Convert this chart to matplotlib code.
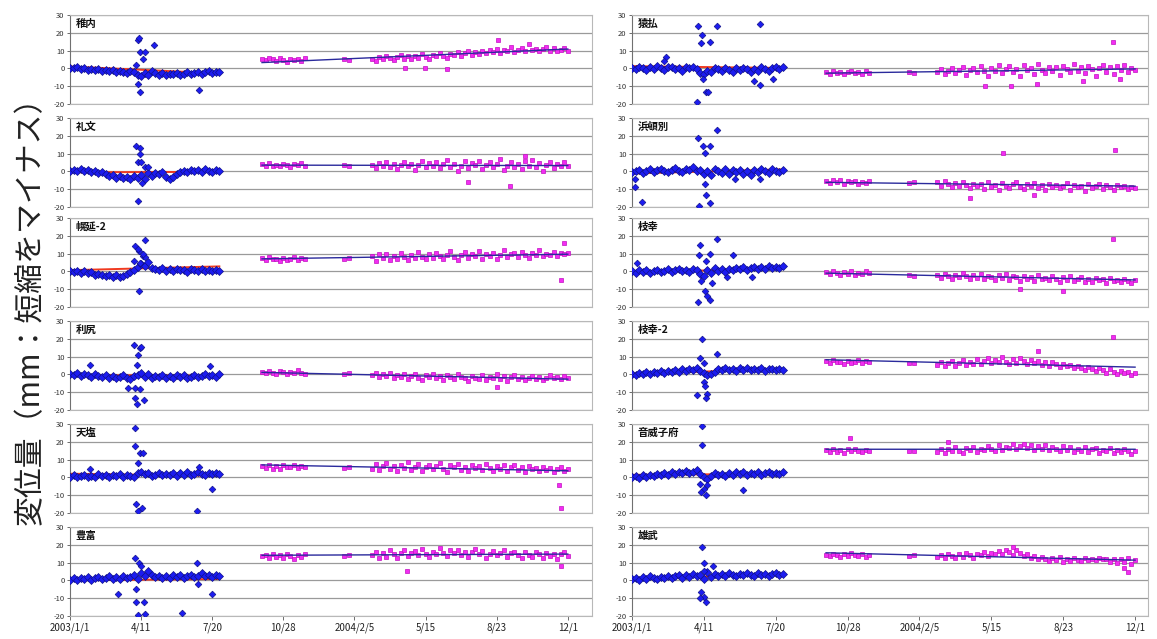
import numpy as np
import matplotlib
matplotlib.use("Agg")
import matplotlib.pyplot as plt

plt.rcParams['font.family'] = ['Noto Sans CJK JP', 'DejaVu Sans']

# days counted from 2003/1/1
BLUE_DAYS = [0, 5, 10, 15, 20, 25, 30, 35, 40, 45, 50, 55, 60, 65, 70, 75, 80, 85, 90, 95,
             100, 105, 110, 115, 120, 125, 130, 135, 140, 145, 150, 155, 160, 165, 170, 175,
             180, 185, 190, 195, 200, 205, 210]
PINK_DAYS = [270, 275, 280, 285, 290, 295, 300, 305, 310, 315, 320, 325, 330,
             385, 393,
             425, 430, 435, 440, 445, 450, 455, 460, 465, 470, 475, 480, 485, 490, 495, 500,
             505, 510, 515, 520, 525, 530, 535, 540, 545, 550, 555, 560, 565, 570, 575, 580,
             585, 590, 595, 600, 605, 610, 615, 620, 625, 630, 635, 640, 645, 650, 655, 660,
             665, 670, 675, 680, 685, 690, 695, 700]
TICK_DAYS = [0, 100, 200, 300, 400, 500, 600, 700]
TICK_LABELS = ["2003/1/1", "4/11", "7/20", "10/28", "2004/2/5", "5/15", "8/23", "12/1"]
Y_TICKS = [-20, -10, 0, 10, 20, 30]

# ---- 稚内
wakkanai_blue = [0.5, 0.0, 0.8, -0.3, 0.2, -0.8, -0.2, -1.0, -0.5, -1.3,
                 -0.8, -1.5, -1.0, -2.0, -1.2, -1.8, -2.5, -1.5, -2.2, -3.5,
                 -4.0, -2.5, -3.8, -1.5, -2.8, -3.5, -2.6, -3.8, -3.0, -3.4,
                 -2.6, -3.8, -3.0, -2.2, -3.4, -2.5, -1.8, -3.0, -2.0, -1.5,
                 -2.4, -1.8, -2.2]
wakkanai_blue_out = ([95, 97, 98, 105, 102, 118, 93, 99, 96, 181],
                     [16, 17, 9, 9, 5, 13, 2, -13, -9, -12])
wakkanai_pink = [5.2, 4.5, 6.0, 5.0, 4.2, 5.8, 4.8, 3.5, 5.5, 4.6, 5.0, 4.0, 5.6,
                 5.2, 4.6,
                 5.5, 4.2, 6.5, 5.0, 7.0, 5.8, 4.5, 6.2, 7.5, 5.5,
                 6.8, 5.0, 7.2, 6.0, 8.0, 6.5, 5.5, 7.8, 6.8, 8.5,
                 7.0, 6.0, 8.2, 7.5, 9.0, 7.2, 8.5, 10.0, 7.8, 9.2,
                 8.0, 9.8, 8.5, 10.5, 9.0, 11.0, 8.8, 10.2, 9.5, 12.0,
                 9.0, 10.5, 11.5, 9.8, 13.5, 10.2, 11.0, 9.5, 10.8, 12.2,
                 10.0, 11.5, 9.8, 10.6, 11.2, 10.0]
wakkanai_pink_out = ([471, 499, 530, 602], [0.5, 0.0, -0.5, 16])

# ---- 礼文
rebun_blue = [0.5, 1.0, 0.2, 1.2, 0.0, 0.6, -0.5, 0.3, -1.0, -0.2,
              -1.5, -2.8, -2.0, -3.5, -2.5, -3.8, -3.0, -4.0, -2.8, -3.5,
              -2.0, -4.5, -1.0, -2.5, -0.8, -1.5, -0.5, -3.0, -4.0, -3.2,
              -1.5, -0.5, 0.5, -0.2, 1.0, 0.2, 0.8, -0.5, 1.2, 0.4,
              -0.3, 0.8, 0.0]
rebun_blue_out = ([93, 99, 98, 96, 100, 105, 110, 96, 101],
                  [14, 13, 9.5, 5, 5, 2.5, 2.5, -16.5, -6.5])
rebun_pink = [4.0, 3.2, 4.5, 3.0, 3.8, 2.8, 4.2, 3.5, 2.5, 4.0, 3.4, 4.6, 3.0,
              3.8, 3.0,
              3.5, 2.0, 4.5, 3.0, 5.0, 2.5, 4.0, 1.5, 3.8, 5.5,
              2.8, 4.2, 1.0, 3.6, 6.0, 2.2, 4.8, 3.0, 5.2, 1.8,
              3.9, 6.5, 2.5, 4.4, 0.5, 3.2, 5.8, 2.0, 4.6, 3.5,
              6.0, 1.5, 3.8, 5.0, 2.4, 4.2, 6.8, 0.8, 3.3, 5.4,
              2.6, 4.0, 1.2, 5.6, 3.0, 6.2, 2.2, 4.5, 0.5, 3.6,
              5.0, 2.0, 4.3, 3.0, 5.5, 3.2]
rebun_pink_out = ([560, 619, 640], [-6.0, -8.0, 8.5])

# ---- 幌延-2
horonobe2_blue = [0.2, -0.5, 0.5, -0.8, 0.0, -1.0, -0.5, -1.8, -1.2, -2.0,
                  -2.5, -1.8, -3.0, -2.2, -3.2, -2.5, -1.5, -0.5, 1.0, 2.5,
                  4.0, 3.0, 5.5, 2.0, 1.5, 0.8, 1.8, 0.5, 1.2, 0.2,
                  1.5, 0.6, 1.0, -0.2, 1.4, 0.8, 0.2, 1.6, 0.5, 1.0,
                  0.3, 0.9, 0.5]
horonobe2_blue_out = ([105, 92, 97, 102, 106, 90, 99, 103, 97, 95],
                      [17.5, 14, 11.5, 8.5, 8, 6, 5, 10, -11, 12.5])
horonobe2_pink = [7.5, 6.5, 8.0, 6.8, 7.2, 6.0, 7.8, 6.5, 7.0, 8.2, 6.4, 7.4, 6.8,
                  7.2, 7.8,
                  8.5, 6.0, 9.5, 7.5, 10.0, 6.5, 8.8, 7.0, 10.5, 8.0,
                  6.2, 9.0, 7.8, 11.0, 8.2, 6.8, 9.8, 7.5, 10.2, 8.6,
                  7.0, 9.4, 11.5, 8.0, 6.5, 9.0, 10.8, 7.6, 9.6, 8.4,
                  11.2, 7.2, 9.8, 8.8, 10.5, 7.0, 9.2, 12.0, 8.0, 9.6,
                  10.4, 8.2, 11.0, 9.0, 7.8, 10.6, 9.4, 11.8, 8.6, 10.0,
                  9.2, 11.0, 8.8, 10.4, 9.6, 10.2]
horonobe2_pink_out = ([690, 695], [-5, 16])

# ---- 利尻
rishiri_blue = [0.5, -0.5, 1.0, -1.0, 0.2, -0.3, -1.2, 0.0, -0.8, -1.5,
                -0.5, -1.8, -1.0, -2.2, -1.2, -0.6, -1.8, -2.5, -1.0, -0.2,
                0.8, -1.5, 0.5, -2.0, -0.8, -1.6, -0.5, -1.8, -1.0, -2.2,
                -0.6, -1.4, -0.2, -2.0, -1.2, -0.4, -1.6, -0.8, 0.2, -1.0,
                -0.4, -1.2, 0.0]
rishiri_blue_out = ([90, 98, 100, 96, 94, 28, 197, 92, 99, 92, 94, 104, 82],
                    [16.5, 15, 15.5, 11, 5.5, 5.5, 5, -7.5, -8, -13, -16.5, -14.5, -7.5])
rishiri_pink = [1.5, 0.8, 2.0, 1.0, 0.2, 1.8, 1.2, 0.5, 1.6, 0.8, 2.2, 1.0, 0.4,
                0.0, 0.6,
                -0.5, 0.8, -1.5, 0.2, -1.0, 1.0, -2.0, -0.2, -1.2, 0.5,
                -2.5, -0.8, 0.0, -1.8, -3.0, -0.5, -1.5, 0.4, -2.2, -1.0,
                -3.2, -0.2, -1.6, -2.6, 0.2, -1.2, -2.0, -3.5, -0.8, -1.8,
                -2.4, -0.4, -3.0, -1.4, -2.2, 0.0, -2.8, -1.0, -3.6, -1.6,
                -0.6, -2.4, -1.2, -3.0, -2.0, -0.8, -2.6, -1.4, -3.2, -1.8,
                -0.6, -2.2, -1.4, -2.8, -1.0, -2.0]
rishiri_pink_out = ([600], [-7])

# ---- 天塩
teshio_blue = [0.5, 1.2, 0.0, 0.8, 1.5, 0.2, 1.0, 0.5, 1.8, 0.6,
               1.2, 0.0, 1.4, 0.8, 2.0, 0.4, 1.5, 1.0, 0.5, 2.5,
               3.0, 1.8, 2.2, 1.0, 1.6, 2.4, 1.2, 2.0, 1.5, 2.6,
               1.0, 2.2, 1.6, 2.8, 1.4, 2.0, 3.0, 1.8, 1.2, 2.4,
               1.8, 2.6, 2.0]
teshio_blue_out = ([92, 91, 99, 102, 96, 28, 93, 96, 101, 200, 178, 181],
                   [28, 17.5, 13.5, 13.5, 8, 5, -15, -19, -17, -6.5, -19, 6])
teshio_pink = [6.5, 5.5, 7.0, 5.0, 6.2, 4.8, 6.8, 5.6, 6.0, 7.2, 5.2, 6.4, 5.8,
               5.5, 6.0,
               5.0, 7.5, 4.0, 6.2, 8.0, 4.8, 6.6, 3.5, 7.0, 5.4,
               8.5, 4.2, 6.0, 7.6, 3.8, 5.8, 7.2, 4.6, 6.4, 8.2,
               5.0, 3.2, 6.8, 5.6, 7.8, 4.4, 6.0, 3.6, 7.0, 5.2,
               6.6, 4.0, 7.4, 5.4, 3.4, 6.2, 4.8, 7.0, 3.8, 5.6,
               6.8, 4.2, 5.8, 3.0, 6.4, 4.6, 5.2, 3.6, 6.0, 4.0,
               5.4, 3.2, 4.8, 5.8, 3.8, 4.6]
teshio_pink_out = ([688, 690], [-4, -17])

# ---- 豊富
toyotomi_blue = [0.5, 1.2, 0.0, 1.5, 0.8, 1.8, 0.4, 1.2, 2.0, 0.8,
                 1.5, 2.2, 1.0, 1.8, 0.6, 2.4, 1.4, 2.0, 3.0, 1.0,
                 4.0, 2.5, 5.5, 3.0, 1.8, 2.6, 1.2, 2.2, 1.6, 2.8,
                 2.0, 3.0, 1.4, 2.4, 3.2, 1.8, 2.6, 4.0, 2.2, 3.0,
                 1.8, 2.8, 2.4]
toyotomi_blue_out = ([91, 97, 100, 178, 93, 68, 180, 199, 93, 104, 95, 106, 157],
                     [12.5, 9.5, 8, 9.5, -5, -7.5, -2, -7.5, -12, -12, -19.5, -19, -18.5])
toyotomi_pink = [13.5, 14.5, 12.8, 15.0, 13.2, 14.0, 12.5, 14.8, 13.6, 12.2, 14.2, 13.0, 14.6,
                 13.8, 14.4,
                 14.0, 16.0, 12.5, 15.2, 13.4, 16.8, 14.6, 12.8, 15.6, 17.0,
                 13.8, 15.4, 16.5, 14.2, 17.5, 15.0, 13.2, 16.2, 14.8, 18.0,
                 15.6, 13.6, 16.8, 15.2, 17.2, 14.4, 16.0, 13.0, 15.8, 17.6,
                 14.6, 16.4, 12.8, 15.0, 16.6, 14.0, 15.6, 17.0, 13.4, 15.2,
                 16.2, 14.4, 12.6, 15.8, 14.2, 13.0, 16.0, 14.6, 12.4, 15.4,
                 13.8, 15.0, 12.2, 14.6, 16.2, 13.6]
toyotomi_pink_out = ([474, 690], [5.5, 8])

# ---- 猿払
sarufutsu_blue = [0.5, -0.5, 1.0, 0.0, -1.0, 0.8, -0.2, 1.2, 0.2, -0.8,
                  0.6, 1.0, -0.4, 0.4, -1.2, 0.8, 0.0, 1.0, -0.6, -2.5,
                  -3.0, -1.5, -2.2, 0.5, -0.5, -1.5, 0.2, -0.8, -1.8, 0.0,
                  -1.0, 0.4, -0.6, -2.0, -0.2, -1.2, 0.6, -0.4, -1.4, 0.2,
                  0.8, -0.2, 1.0]
sarufutsu_blue_out = ([92, 118, 178, 98, 96, 108, 48, 45, 99, 103, 106, 90, 178, 170, 196],
                      [24, 24, 25, 18.5, 14.5, 15, 6.5, 4, -6, -13.5, -13.5, -19, -9.5, -7, -6])
sarufutsu_pink = [-2.0, -3.0, -1.5, -2.6, -1.8, -3.2, -2.2, -1.2, -2.8, -2.0, -3.4, -1.6, -2.4,
                  -2.0, -2.6,
                  -2.0, -0.5, -3.0, -1.2, 0.5, -2.5, -1.0, 1.0, -3.5, -0.8,
                  0.2, -2.0, 1.5, -1.6, -4.0, 0.0, -1.4, 2.0, -2.8, -0.6,
                  1.2, -2.2, -0.2, -4.5, 1.8, -1.0, 0.4, -3.0, 2.2, -0.8,
                  -2.4, 1.0, -1.6, 0.6, -3.8, 1.6, -0.4, -2.0, 2.5, -1.2,
                  0.8, -2.6, 1.4, -0.6, -4.0, 0.2, 2.0, -1.8, 0.6, -3.2,
                  1.2, -0.8, 1.8, -2.2, 0.4, -1.0]
sarufutsu_pink_out = ([669, 491, 527, 563, 628, 679], [15, -10, -10, -8.5, -7, -6])

# ---- 浜頓別
hamatonbetsu_blue = [-0.5, 0.5, 1.0, -0.8, 0.2, 1.2, -0.2, 0.6, 1.5, 0.0,
                     -0.6, 1.0, 2.0, 0.4, -0.4, 1.6, 0.8, 2.2, 0.2, 1.0,
                     -1.5, 0.5, -2.0, 1.4, 0.0, -0.8, 1.2, -1.5, 0.6, -0.4,
                     1.0, -1.2, 0.2, -2.0, 0.8, -0.6, 1.6, 0.0, -1.0, 1.2,
                     0.4, -0.2, 0.8]
hamatonbetsu_blue_out = ([118, 92, 108, 99, 101, 4, 4, 14, 101, 103, 93, 108, 143, 178],
                         [23.5, 18.5, 14, 14, 10.5, -4.5, -8.5, -17, -7, -13, -19.5, -17.5, -4, -4])
hamatonbetsu_pink = [-5.5, -6.5, -5.0, -6.2, -4.8, -6.8, -5.6, -6.0, -5.2, -7.0, -5.8, -6.4, -5.4,
                     -6.4, -6.0,
                     -6.0, -8.0, -5.5, -7.2, -9.0, -6.5, -8.4, -5.8, -7.6, -9.5,
                     -6.8, -8.2, -7.0, -9.8, -6.2, -8.8, -7.4, -10.2, -6.6, -8.0,
                     -9.2, -7.2, -5.8, -8.6, -10.0, -7.0, -8.4, -6.4, -9.4, -7.8,
                     -10.6, -6.8, -8.8, -7.4, -9.6, -8.2, -6.6, -10.4, -7.6, -9.0,
                     -8.0, -10.8, -7.0, -9.2, -8.4, -6.8, -9.8, -7.8, -8.6, -10.2,
                     -7.4, -9.0, -8.2, -10.0, -8.8, -9.4]
hamatonbetsu_pink_out = ([516, 672, 470, 560], [10.5, 12, -15, -13])

# ---- 枝幸
esashi_blue = [0.2, -0.8, 0.6, -0.4, 0.8, -1.0, 0.0, 1.0, -0.6, 0.4,
               1.2, -0.2, 0.8, 1.4, 0.2, 1.0, -0.4, 1.6, 0.6, -1.5,
               -2.5, 1.0, -1.0, 2.0, 0.4, 1.2, -0.5, 1.6, 0.8, 2.0,
               1.2, 2.4, 1.0, 1.8, 2.6, 1.4, 2.2, 1.6, 3.0, 2.0,
               2.6, 1.8, 3.0]
esashi_blue_out = ([118, 95, 108, 93, 141, 7, 103, 96, 111, 132, 167, 101, 104, 92, 108],
                   [18, 15, 10, 9, 9, 5, 6, -5.5, -6.5, -3, -3, -11, -14, -17, -16])
esashi_pink = [-0.5, -1.5, 0.2, -1.0, -2.0, -0.2, -1.2, 0.5, -1.8, -0.8, -1.4, 0.0, -1.0,
               -1.8, -2.4,
               -2.0, -3.5, -1.2, -2.8, -4.0, -1.8, -3.2, -0.8, -2.4, -4.5,
               -2.2, -3.6, -1.5, -4.2, -2.6, -3.0, -5.0, -2.0, -3.8, -1.4,
               -4.6, -2.8, -3.4, -5.2, -2.4, -4.0, -3.0, -5.5, -2.2, -4.4,
               -3.6, -5.0, -2.8, -4.2, -6.0, -3.4, -4.8, -2.6, -5.4, -4.0,
               -3.2, -5.8, -4.4, -6.2, -3.8, -5.0, -4.2, -6.4, -3.6, -5.6,
               -4.8, -6.0, -4.4, -5.2, -6.6, -5.0]
esashi_pink_out = ([669, 540, 600], [18, -10, -11])

# ---- 枝幸-2
esashi2_blue = [0.0, -0.5, 0.8, 0.2, 1.2, 0.4, 1.6, 0.8, 1.8, 1.0,
                2.0, 1.4, 2.4, 1.6, 2.8, 2.0, 3.0, 2.2, 3.4, 2.0,
                1.0, -0.5, 0.5, 1.5, 3.0, 2.2, 3.6, 2.4, 3.2, 2.0,
                3.4, 2.6, 3.8, 2.2, 3.0, 2.6, 3.6, 2.0, 3.2, 2.8,
                2.2, 3.0, 2.4]
esashi2_blue_out = ([97, 118, 94, 100, 100, 102, 90, 104, 103],
                    [20, 11.5, 9, 6.5, -4, -6.5, -11.5, -11, -13.5])
esashi2_pink = [7.5, 6.5, 8.0, 6.8, 7.2, 6.0, 7.8, 6.4, 7.0, 8.2, 6.6, 7.4, 6.8,
                6.2, 6.6,
                5.5, 7.0, 4.5, 6.2, 7.8, 5.0, 6.6, 8.2, 5.4, 7.2,
                6.0, 8.5, 5.6, 7.4, 9.0, 6.2, 8.0, 6.8, 9.5, 7.0,
                5.8, 8.4, 6.6, 9.2, 7.4, 5.6, 8.0, 6.4, 7.6, 5.2,
                6.8, 4.8, 7.2, 5.6, 4.0, 6.0, 4.6, 5.4, 3.4, 5.0,
                3.8, 2.6, 4.4, 3.0, 1.8, 3.6, 2.2, 0.8, 2.8, 1.4,
                0.0, 2.0, 0.6, 1.6, -0.4, 1.0]
esashi2_pink_out = ([669, 565], [21, 13])

# ---- 音威子府
otoineppu_blue = [0.0, 0.8, -0.5, 1.2, 0.4, 1.6, 0.8, 2.0, 1.2, 2.4,
                  1.6, 2.8, 2.0, 3.2, 2.2, 3.6, 2.6, 3.0, 4.0, 2.0,
                  0.5, -1.0, 1.0, 2.5, 1.2, 2.0, 0.8, 2.4, 1.4, 2.8,
                  1.8, 3.0, 1.6, 2.6, 2.0, 3.2, 1.4, 2.4, 2.8, 1.8,
                  2.6, 2.0, 3.0]
otoineppu_blue_out = ([97, 97, 94, 104, 100, 103, 96, 155],
                      [29, 18, -3.5, -4, -6.5, -10, -8, -7])
otoineppu_pink = [15.5, 14.5, 16.0, 14.0, 15.2, 13.8, 15.8, 14.6, 16.2, 15.0, 14.2, 15.6, 14.8,
                  15.0, 14.6,
                  14.0, 15.8, 13.5, 16.2, 14.6, 17.0, 15.0, 13.8, 16.4, 15.2,
                  17.2, 14.4, 16.0, 15.4, 17.6, 16.2, 14.8, 18.0, 15.6, 17.0,
                  16.4, 18.5, 15.8, 17.4, 19.0, 16.6, 18.2, 15.4, 17.8, 16.0,
                  18.4, 15.2, 17.0, 16.2, 14.6, 17.4, 15.6, 16.8, 14.2, 16.0,
                  15.0, 17.2, 14.4, 15.8, 16.6, 13.8, 15.4, 14.6, 16.4, 13.6,
                  15.2, 14.0, 16.0, 14.8, 13.4, 15.0]
otoineppu_pink_out = ([303, 440], [22, 20])

# ---- 雄武
oumu_blue = [0.8, 1.6, 0.4, 1.8, 1.0, 2.2, 1.2, 0.6, 2.0, 1.4,
             2.6, 1.2, 2.2, 3.0, 1.6, 2.8, 2.0, 3.4, 2.4, 3.0,
             1.0, 4.5, 2.0, 3.6, 2.6, 3.8, 2.2, 4.0, 3.0, 2.4,
             3.6, 2.8, 4.2, 3.2, 2.6, 4.0, 3.0, 3.8, 2.6, 3.4,
             4.2, 3.0, 3.6]
oumu_blue_out = ([97, 100, 113, 100, 96, 100, 103, 95],
                 [19, 10, 8, 5.5, -6.5, -9.5, -12, -10])
oumu_pink = [14.5, 13.5, 15.0, 14.0, 13.2, 14.8, 13.8, 15.2, 14.2, 13.6, 14.6, 13.4, 14.4,
             13.8, 14.2,
             13.0, 14.2, 12.6, 15.0, 13.6, 12.8, 14.6, 13.4, 15.4, 14.0,
             12.8, 15.0, 14.2, 16.0, 13.8, 15.4, 14.6, 16.6, 15.0, 17.2,
             15.8, 14.4, 16.8, 15.2, 13.6, 14.8, 12.8, 13.6, 11.8, 13.2,
             12.0, 10.8, 12.6, 11.4, 13.0, 10.6, 12.2, 11.0, 12.8, 11.6,
             10.8, 12.4, 11.2, 12.0, 11.6, 12.4, 11.8, 12.2, 10.4, 12.0,
             9.5, 11.8, 10.2, 12.6, 9.0, 11.4]
oumu_pink_out = ([690, 685, 530], [5, 7, 19])

LEFT_COLUMN = [
    ("稚内", wakkanai_blue, wakkanai_blue_out, wakkanai_pink, wakkanai_pink_out),
    ("礼文", rebun_blue, rebun_blue_out, rebun_pink, rebun_pink_out),
    ("幌延-2", horonobe2_blue, horonobe2_blue_out, horonobe2_pink, horonobe2_pink_out),
    ("利尻", rishiri_blue, rishiri_blue_out, rishiri_pink, rishiri_pink_out),
    ("天塩", teshio_blue, teshio_blue_out, teshio_pink, teshio_pink_out),
    ("豊富", toyotomi_blue, toyotomi_blue_out, toyotomi_pink, toyotomi_pink_out),
]
RIGHT_COLUMN = [
    ("猿払", sarufutsu_blue, sarufutsu_blue_out, sarufutsu_pink, sarufutsu_pink_out),
    ("浜頓別", hamatonbetsu_blue, hamatonbetsu_blue_out, hamatonbetsu_pink, hamatonbetsu_pink_out),
    ("枝幸", esashi_blue, esashi_blue_out, esashi_pink, esashi_pink_out),
    ("枝幸-2", esashi2_blue, esashi2_blue_out, esashi2_pink, esashi2_pink_out),
    ("音威子府", otoineppu_blue, otoineppu_blue_out, otoineppu_pink, otoineppu_pink_out),
    ("雄武", oumu_blue, oumu_blue_out, oumu_pink, oumu_pink_out),
]

BLUE = "#1c1cf0"
PINK = "#f22cf2"
RED_TREND = "#f03a20"
NAVY_TREND = "#2a2a9c"
GRID = "#9a9a9a"

W, H = 1157, 639
ROW_TOPS = [15, 118, 218, 321, 424, 527]   # pixel row of the +30 line
ROW_H = 89                                  # +30 .. -20
COLUMNS = [(70, 522, 734, LEFT_COLUMN), (632, 516, 718, RIGHT_COLUMN)]


def trend(days, values, out):
    x = np.concatenate([days, out[0]])
    y = np.concatenate([values, out[1]])
    k, b = np.polyfit(x, y, 1)
    xs = np.array([min(days), max(days)])
    return xs, k * xs + b


def draw_panel(ax, name, blue, blue_out, pink, pink_out, xmax, bottom_row):
    ax.set_xlim(0, xmax)
    ax.set_ylim(-20, 30)
    for v in Y_TICKS:
        ax.axhline(v, color=GRID, lw=0.9, zorder=1)

    bx, by = trend(BLUE_DAYS, blue, blue_out)
    ax.plot(bx, by, color=RED_TREND, lw=1.4, zorder=2)
    ax.plot(BLUE_DAYS, blue, ls="none", marker="D", ms=3.6, color=BLUE,
            mec="#10108a", mew=0.5, zorder=3)
    ax.plot(blue_out[0], blue_out[1], ls="none", marker="D", ms=3.4, color=BLUE,
            mec="#10108a", mew=0.5, zorder=3)

    ax.plot(PINK_DAYS, pink, ls="none", marker="s", ms=3.3, color=PINK,
            mec="#c010c0", mew=0.5, zorder=3)
    ax.plot(pink_out[0], pink_out[1], ls="none", marker="s", ms=3.0, color=PINK,
            mec="#c010c0", mew=0.5, zorder=3)
    px, py = trend(PINK_DAYS, pink, pink_out)
    ax.plot(px, py, color=NAVY_TREND, lw=1.0, zorder=4)

    ax.text(8, 25, name, fontsize=7.5, fontweight="bold", va="center", ha="left",
            color="#111111", zorder=5)

    ax.set_yticks(Y_TICKS)
    ax.set_yticklabels([str(v) for v in Y_TICKS])
    ax.tick_params(axis="y", length=2, width=0.6, labelsize=5.5, pad=2,
                   colors="#555555", labelcolor="#333333")
    ax.set_xticks(TICK_DAYS)
    if bottom_row:
        ax.set_xticklabels(TICK_LABELS)
        ax.tick_params(axis="x", length=3, width=0.6, labelsize=7, pad=2,
                       colors="#555555", labelcolor="#222222")
    else:
        ax.set_xticklabels([])
        ax.tick_params(axis="x", length=0)
    for side in ("top", "right", "bottom"):
        ax.spines[side].set_color("#b8b8b8")
        ax.spines[side].set_linewidth(0.8)
    ax.spines["left"].set_color("#707070")
    ax.spines["left"].set_linewidth(0.8)


fig = plt.figure(figsize=(W / 100, H / 100), dpi=100)
fig.patch.set_facecolor("white")

for x0, width, xmax, stations in COLUMNS:
    for r, (name, blue, blue_out, pink, pink_out) in enumerate(stations):
        top = ROW_TOPS[r]
        ax = fig.add_axes([x0 / W, 1 - (top + ROW_H) / H, width / W, ROW_H / H])
        draw_panel(ax, name, blue, blue_out, pink, pink_out, xmax, r == len(stations) - 1)

fig.text(30 / W, 0.525, "変位量（mm：短縮をマイナス）", rotation=90, fontsize=21.5,
         ha="center", va="center", color="#222222")

fig.savefig("out.png", dpi=100, facecolor="white")
